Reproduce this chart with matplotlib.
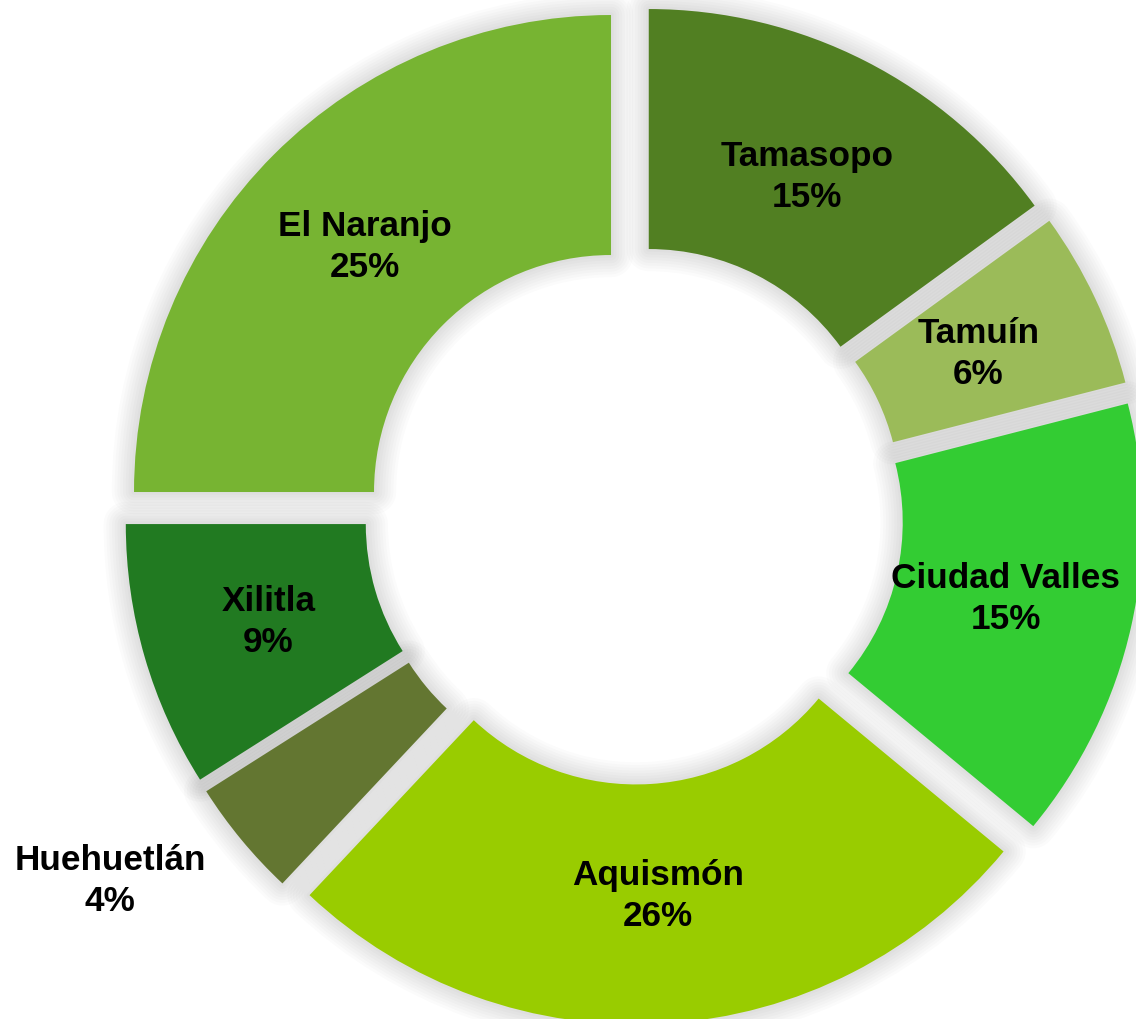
import numpy as np
import matplotlib.pyplot as plt
from matplotlib.patches import Wedge

municipios = ['Tamasopo', 'Tamuín', 'Ciudad Valles', 'Aquismón',
              'Huehuetlán', 'Xilitla', 'El Naranjo']
porcentajes = [15, 6, 15, 26, 4, 9, 25]
colores = ['#517F22', '#9BBB59', '#33CC33', '#99CC00',
           '#637631', '#217A21', '#77B432']

W, H = 1136, 1020
centro = (634, H - 516)
radio = 477
ancho = 240
separacion = 32.5

fig = plt.figure(figsize=(W / 100, H / 100), dpi=100)
ax = fig.add_axes([0, 0, 1, 1])

wedges, _ = ax.pie(porcentajes, colors=colores, startangle=90,
                   counterclock=False, center=centro, radius=radio,
                   explode=[separacion] * len(porcentajes),
                   wedgeprops=dict(width=ancho, linewidth=0))

# soft shadow around each slice
for w in wedges:
    w.set_zorder(3)
    for lw in range(32, 0, -4):
        sh = Wedge(w.center, w.r, w.theta1, w.theta2, width=w.width,
                   facecolor='none', edgecolor=(0, 0, 0, 0.015), linewidth=lw,
                   joinstyle='round', zorder=1)
        ax.add_patch(sh)

for w, nombre, p in zip(wedges, municipios, porcentajes):
    t = np.deg2rad((w.theta1 + w.theta2) / 2)
    if nombre == 'Huehuetlán':
        t -= np.deg2rad(5)
        dist = 1.27 * radio
    else:
        dist = 0.73 * radio
    x = w.center[0] + dist * np.cos(t)
    y = w.center[1] + dist * np.sin(t)
    ax.text(x, y, '%s\n%d%%' % (nombre, p), ha='center', va='center',
            fontsize=25.3, fontweight='bold', family='Liberation Sans',
            linespacing=1.3, color='black', zorder=5)

ax.set_xlim(0, W)
ax.set_ylim(0, H)
ax.set_aspect('equal')
ax.axis('off')
fig.savefig('out.png', dpi=100, facecolor='white')
